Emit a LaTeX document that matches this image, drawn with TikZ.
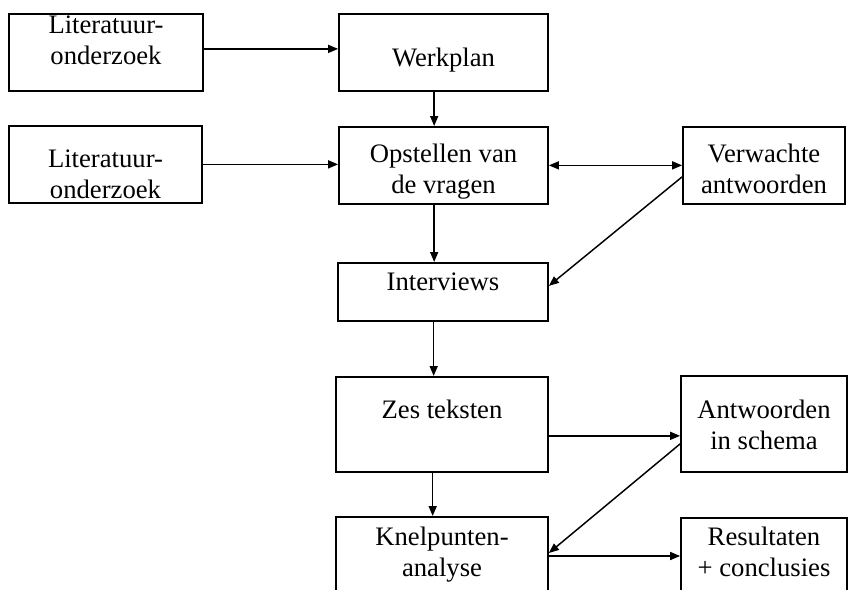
\documentclass[tikz,border=0pt]{standalone}
\usepackage{fontspec}
\setmainfont{Liberation Serif}
\usetikzlibrary{arrows.meta}
\tikzset{
  blok/.style={draw, line width=1.3pt, anchor=north, align=center, inner ysep=0pt, font=\fontsize{20}{23.25}\selectfont},
  pijl/.style={-{Triangle[length=7.5pt,width=6pt]}, line width=1.1pt},
  dubbel/.style={{Triangle[length=7.5pt,width=6pt]}-{Triangle[length=7.5pt,width=6pt]}, line width=1.1pt}
}
\begin{document}
\begin{tikzpicture}[x=0.75pt, y=-0.75pt]
\useasboundingbox (0,0) rectangle (848,589);
\clip (0,0) rectangle (848,589);
% blokken
\node[blok, minimum width=145.5pt, text height=38.25pt, text depth=19.5pt] (lit1) at (106,13) {Literatuur-\\onderzoek};
\node[blok, minimum width=144.75pt, text height=54.75pt, text depth=3pt] (lit2) at (105.5,125) {Literatuur-\\onderzoek};
\node[blok, minimum width=156.75pt, text height=39.75pt, text depth=18pt] (werkplan) at (443.5,13) {Werkplan};
\node[blok, minimum width=156.75pt, text height=50.25pt, text depth=7.5pt] (vragen) at (443.5,126) {Opstellen van\\de vragen};
\node[blok, minimum width=121.5pt, text height=50.25pt, text depth=7.5pt] (verwacht) at (764,126) {Verwachte\\antwoorden};
\node[blok, minimum width=157.5pt, text height=21pt, text depth=22.5pt] (interviews) at (443,262) {Interviews};
\node[blok, minimum width=159pt, text height=31.5pt, text depth=39.75pt] (teksten) at (442,376) {Zes teksten};
\node[blok, minimum width=124.5pt, text height=55.5pt, text depth=16.5pt] (schema) at (764,375) {Antwoorden\\in schema};
\node[blok, minimum width=159pt, text height=45pt, text depth=21.75pt] (knelpunten) at (442,516) {Knelpunten-\\analyse};
\node[blok, minimum width=124.5pt, text height=44.25pt, text depth=21.75pt] (resultaten) at (764,517) {Resultaten\\+ conclusies};
% pijlen
\draw[pijl] ([yshift=2.6pt]lit1.east) -- ([yshift=2.6pt]lit1.east -| werkplan.west);
\draw[pijl] (lit2.east) -- (lit2.east -| vragen.west);
\draw[pijl] ([xshift=-7pt]werkplan.south) -- ([xshift=-7pt]werkplan.south |- vragen.north);
\draw[dubbel] (vragen.east) -- (vragen.east -| verwacht.west);
\draw[pijl] ([yshift=-8.6pt]verwacht.west) -- ([yshift=4.5pt]interviews.east);
\draw[pijl] ([xshift=-7pt]vragen.south) -- ([xshift=-7pt]vragen.south |- interviews.north);
\draw[pijl] ([xshift=-7pt]interviews.south) -- ([xshift=-7pt]interviews.south |- teksten.north);
\draw[pijl] ([yshift=-8.6pt]teksten.east) -- ([yshift=-8.6pt]teksten.east -| schema.west);
\draw[pijl] ([yshift=-15pt]schema.west) -- ([yshift=-27.75pt]knelpunten.north east);
\draw[pijl] ([xshift=-7pt]teksten.south) -- ([xshift=-7pt]teksten.south |- knelpunten.north);
\draw[pijl] ([yshift=-30pt]knelpunten.north east) -- ([yshift=-30pt]knelpunten.north east -| resultaten.west);
\end{tikzpicture}
\end{document}
